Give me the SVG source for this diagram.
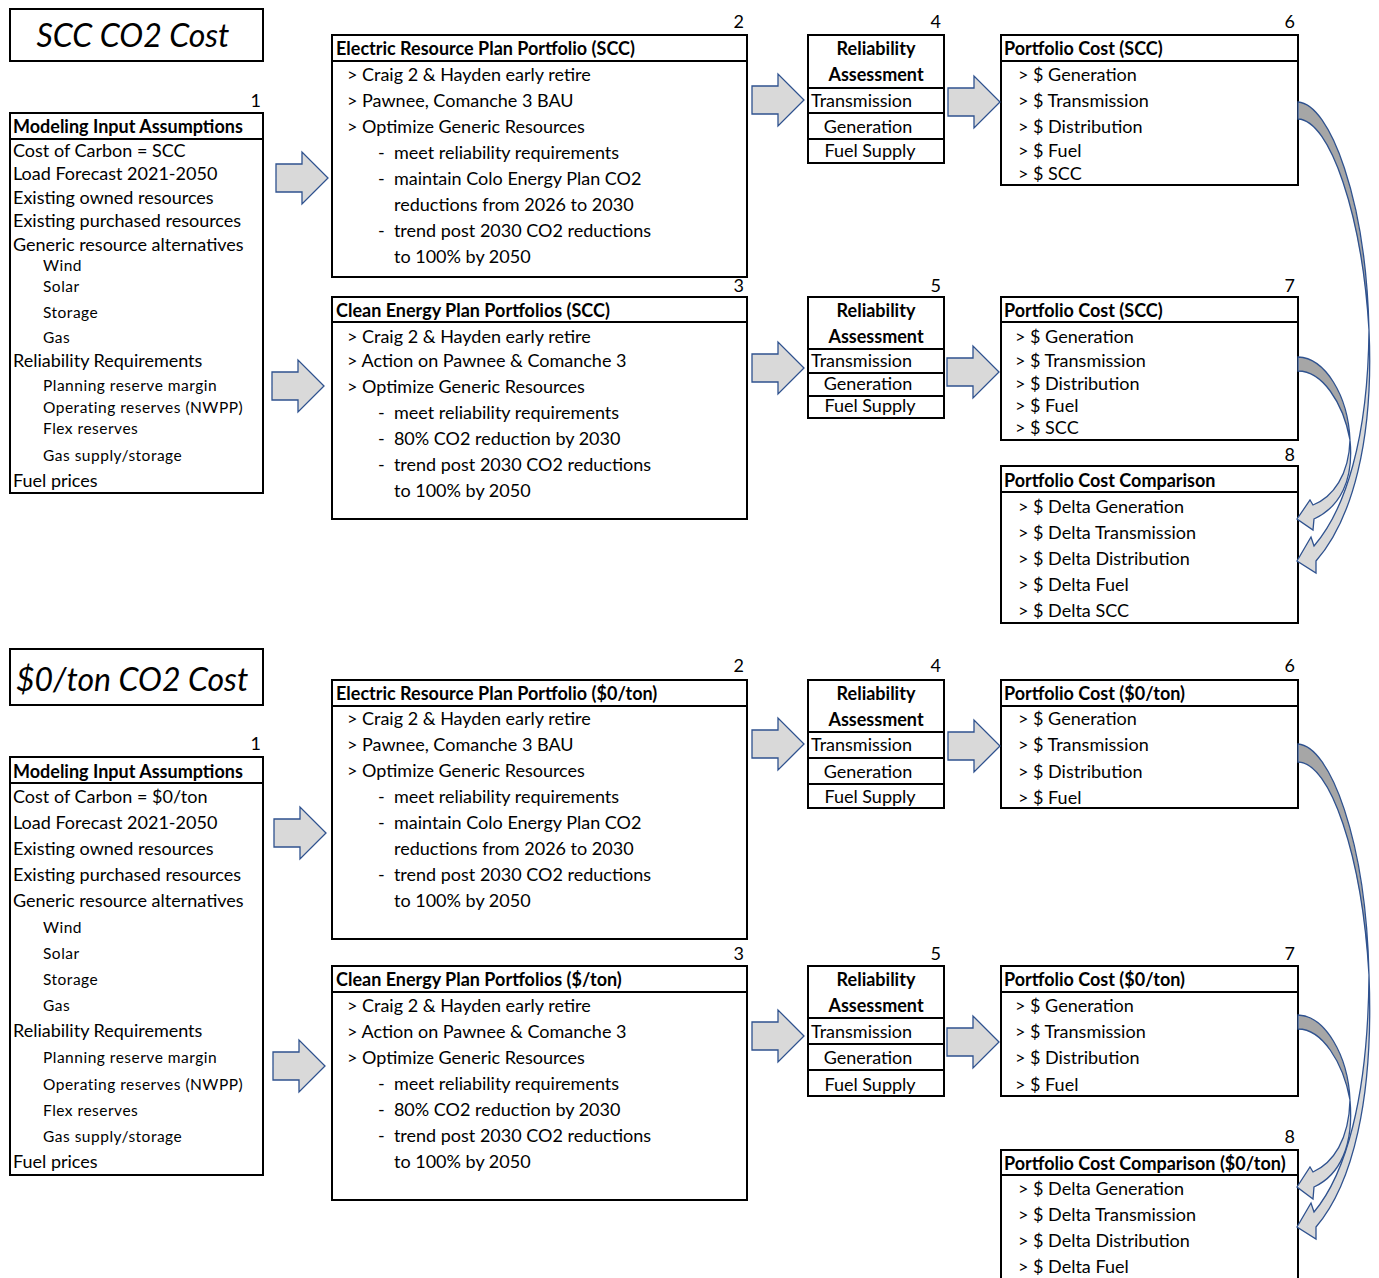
<svg xmlns="http://www.w3.org/2000/svg" width="1379" height="1278" viewBox="0 0 1379 1278">
<style>
.bg{fill:#fff}
.box{fill:#fff;stroke:#000;stroke-width:2}
.ln{stroke:#000;stroke-width:2;fill:none}
text{font-family:Lato,"Liberation Sans",sans-serif;font-size:18px;fill:#000;white-space:pre}
.b{font-weight:bold}
.s{font-size:15.5px;letter-spacing:0.5px}
.c{text-anchor:middle}
.r{text-anchor:end}
.ttl{font-size:32px;font-style:italic}
.arr{fill:#D9D9D9;stroke:#2F528F;stroke-width:1.3;stroke-linejoin:miter}
.dk{fill:#A6A6A6;stroke:#2F528F;stroke-width:1.3}
</style>
<defs>
<path id="blk" d="M0,-14 H26 V-26 L52,0 L26,26 V14 H0 Z"/>
</defs>
<rect class="bg" x="0" y="0" width="1379" height="1278"/>

<!-- ===== SCC section ===== -->
<g id="title-scc"><rect class="box" x="10" y="9" width="253" height="52"/><text class="ttl c" x="133" y="47">SCC CO2 Cost</text></g>

<g id="n1-scc">
<text class="r" x="261" y="107">1</text>
<rect class="box" x="10" y="113" width="253" height="380"/>
<line class="ln" x1="10" y1="139" x2="263" y2="139"/>
<text class="b" x="13" y="133">Modeling Input Assumptions</text>
<text x="13" y="157">Cost of Carbon = SCC</text>
<text x="13" y="180">Load Forecast 2021-2050</text>
<text x="13" y="204">Existing owned resources</text>
<text x="13" y="227">Existing purchased resources</text>
<text x="13" y="251">Generic resource alternatives</text>
<text class="s" x="43" y="271">Wind</text>
<text class="s" x="43" y="292">Solar</text>
<text class="s" x="43" y="318">Storage</text>
<text class="s" x="43" y="343">Gas</text>
<text x="13" y="367">Reliability Requirements</text>
<text class="s" x="43" y="391">Planning reserve margin</text>
<text class="s" x="43" y="413">Operating reserves (NWPP)</text>
<text class="s" x="43" y="434">Flex reserves</text>
<text class="s" x="43" y="461">Gas supply/storage</text>
<text x="13" y="487">Fuel prices</text>
</g>

<g id="n2-scc">
<text class="r" x="744" y="28">2</text>
<rect class="box" x="332" y="35" width="415" height="242"/>
<line class="ln" x1="332" y1="61" x2="747" y2="61"/>
<text class="b" x="336" y="55">Electric Resource Plan Portfolio (SCC)</text>
<text x="347" y="81">&gt; Craig 2 &amp; Hayden early retire</text>
<text x="347" y="107">&gt; Pawnee, Comanche 3 BAU</text>
<text x="347" y="133">&gt; Optimize Generic Resources</text>
<text x="378" y="159">-  meet reliability requirements</text>
<text x="378" y="185">-  maintain Colo Energy Plan CO2</text>
<text x="394" y="211">reductions from 2026 to 2030</text>
<text x="378" y="237">-  trend post 2030 CO2 reductions</text>
<text x="394" y="263">to 100% by 2050</text>
</g>

<g id="n3-scc">
<text class="r" x="744" y="292">3</text>
<rect class="box" x="332" y="297" width="415" height="222"/>
<line class="ln" x1="332" y1="322" x2="747" y2="322"/>
<text class="b" x="336" y="317">Clean Energy Plan Portfolios (SCC)</text>
<text x="347" y="343">&gt; Craig 2 &amp; Hayden early retire</text>
<text x="347" y="367">&gt; Action on Pawnee &amp; Comanche 3</text>
<text x="347" y="393">&gt; Optimize Generic Resources</text>
<text x="378" y="419">-  meet reliability requirements</text>
<text x="378" y="445">-  80% CO2 reduction by 2030</text>
<text x="378" y="471">-  trend post 2030 CO2 reductions</text>
<text x="394" y="497">to 100% by 2050</text>
</g>

<g id="n4-scc">
<text class="r" x="941" y="28">4</text>
<rect class="box" x="808" y="35" width="136" height="128"/>
<line class="ln" x1="808" y1="88" x2="944" y2="88"/>
<line class="ln" x1="808" y1="113" x2="944" y2="113"/>
<line class="ln" x1="808" y1="139" x2="944" y2="139"/>
<text class="b c" x="876" y="55">Reliability</text>
<text class="b c" x="876" y="81">Assessment</text>
<text x="811" y="107">Transmission</text>
<text class="c" x="868" y="133">Generation</text>
<text class="c" x="870" y="157">Fuel Supply</text>
</g>

<g id="n5-scc">
<text class="r" x="941" y="292">5</text>
<rect class="box" x="808" y="297" width="136" height="121"/>
<line class="ln" x1="808" y1="349" x2="944" y2="349"/>
<line class="ln" x1="808" y1="373" x2="944" y2="373"/>
<line class="ln" x1="808" y1="396" x2="944" y2="396"/>
<text class="b c" x="876" y="317">Reliability</text>
<text class="b c" x="876" y="343">Assessment</text>
<text x="811" y="367">Transmission</text>
<text class="c" x="868" y="390">Generation</text>
<text class="c" x="870" y="412">Fuel Supply</text>
</g>

<g id="n6-scc">
<text class="r" x="1295" y="28">6</text>
<rect class="box" x="1001" y="35" width="297" height="150"/>
<line class="ln" x1="1001" y1="61" x2="1298" y2="61"/>
<text class="b" x="1004" y="55">Portfolio Cost (SCC)</text>
<text x="1018" y="81">&gt; $ Generation</text>
<text x="1018" y="107">&gt; $ Transmission</text>
<text x="1018" y="133">&gt; $ Distribution</text>
<text x="1018" y="157">&gt; $ Fuel</text>
<text x="1018" y="180">&gt; $ SCC</text>
</g>

<g id="n7-scc">
<text class="r" x="1295" y="292">7</text>
<rect class="box" x="1001" y="297" width="297" height="143"/>
<line class="ln" x1="1001" y1="322" x2="1298" y2="322"/>
<text class="b" x="1004" y="317">Portfolio Cost (SCC)</text>
<text x="1015" y="343">&gt; $ Generation</text>
<text x="1015" y="367">&gt; $ Transmission</text>
<text x="1015" y="390">&gt; $ Distribution</text>
<text x="1015" y="412">&gt; $ Fuel</text>
<text x="1015" y="434">&gt; $ SCC</text>
</g>

<g id="n8-scc">
<text class="r" x="1295" y="461">8</text>
<rect class="box" x="1001" y="466" width="297" height="157"/>
<line class="ln" x1="1001" y1="492" x2="1298" y2="492"/>
<text class="b" x="1004" y="487">Portfolio Cost Comparison</text>
<text x="1018" y="513">&gt; $ Delta Generation</text>
<text x="1018" y="539">&gt; $ Delta Transmission</text>
<text x="1018" y="565">&gt; $ Delta Distribution</text>
<text x="1018" y="591">&gt; $ Delta Fuel</text>
<text x="1018" y="617">&gt; $ Delta SCC</text>
</g>

<!-- ===== $0/ton section ===== -->
<g id="title-zero"><rect class="box" x="10" y="649" width="253" height="56"/><text class="ttl" x="16" y="691">$0/ton CO2 Cost</text></g>

<g id="n1-zero">
<text class="r" x="261" y="750">1</text>
<rect class="box" x="10" y="757" width="253" height="418"/>
<line class="ln" x1="10" y1="783" x2="263" y2="783"/>
<text class="b" x="13" y="778">Modeling Input Assumptions</text>
<text x="13" y="803">Cost of Carbon = $0/ton</text>
<text x="13" y="829">Load Forecast 2021-2050</text>
<text x="13" y="855">Existing owned resources</text>
<text x="13" y="881">Existing purchased resources</text>
<text x="13" y="907">Generic resource alternatives</text>
<text class="s" x="43" y="933">Wind</text>
<text class="s" x="43" y="959">Solar</text>
<text class="s" x="43" y="985">Storage</text>
<text class="s" x="43" y="1011">Gas</text>
<text x="13" y="1037">Reliability Requirements</text>
<text class="s" x="43" y="1063">Planning reserve margin</text>
<text class="s" x="43" y="1090">Operating reserves (NWPP)</text>
<text class="s" x="43" y="1116">Flex reserves</text>
<text class="s" x="43" y="1142">Gas supply/storage</text>
<text x="13" y="1168">Fuel prices</text>
</g>

<g id="n2-zero">
<text class="r" x="744" y="672">2</text>
<rect class="box" x="332" y="680" width="415" height="259"/>
<line class="ln" x1="332" y1="706" x2="747" y2="706"/>
<text class="b" x="336" y="700">Electric Resource Plan Portfolio ($0/ton)</text>
<text x="347" y="725">&gt; Craig 2 &amp; Hayden early retire</text>
<text x="347" y="751">&gt; Pawnee, Comanche 3 BAU</text>
<text x="347" y="777">&gt; Optimize Generic Resources</text>
<text x="378" y="803">-  meet reliability requirements</text>
<text x="378" y="829">-  maintain Colo Energy Plan CO2</text>
<text x="394" y="855">reductions from 2026 to 2030</text>
<text x="378" y="881">-  trend post 2030 CO2 reductions</text>
<text x="394" y="907">to 100% by 2050</text>
</g>

<g id="n3-zero">
<text class="r" x="744" y="960">3</text>
<rect class="box" x="332" y="966" width="415" height="234"/>
<line class="ln" x1="332" y1="992" x2="747" y2="992"/>
<text class="b" x="336" y="986">Clean Energy Plan Portfolios ($/ton)</text>
<text x="347" y="1012">&gt; Craig 2 &amp; Hayden early retire</text>
<text x="347" y="1038">&gt; Action on Pawnee &amp; Comanche 3</text>
<text x="347" y="1064">&gt; Optimize Generic Resources</text>
<text x="378" y="1090">-  meet reliability requirements</text>
<text x="378" y="1116">-  80% CO2 reduction by 2030</text>
<text x="378" y="1142">-  trend post 2030 CO2 reductions</text>
<text x="394" y="1168">to 100% by 2050</text>
</g>

<g id="n4-zero">
<text class="r" x="941" y="672">4</text>
<rect class="box" x="808" y="680" width="136" height="128"/>
<line class="ln" x1="808" y1="732" x2="944" y2="732"/>
<line class="ln" x1="808" y1="758" x2="944" y2="758"/>
<line class="ln" x1="808" y1="784" x2="944" y2="784"/>
<text class="b c" x="876" y="700">Reliability</text>
<text class="b c" x="876" y="726">Assessment</text>
<text x="811" y="751">Transmission</text>
<text class="c" x="868" y="778">Generation</text>
<text class="c" x="870" y="803">Fuel Supply</text>
</g>

<g id="n5-zero">
<text class="r" x="941" y="960">5</text>
<rect class="box" x="808" y="966" width="136" height="130"/>
<line class="ln" x1="808" y1="1018" x2="944" y2="1018"/>
<line class="ln" x1="808" y1="1044" x2="944" y2="1044"/>
<line class="ln" x1="808" y1="1070" x2="944" y2="1070"/>
<text class="b c" x="876" y="986">Reliability</text>
<text class="b c" x="876" y="1012">Assessment</text>
<text x="811" y="1038">Transmission</text>
<text class="c" x="868" y="1064">Generation</text>
<text class="c" x="870" y="1091">Fuel Supply</text>
</g>

<g id="n6-zero">
<text class="r" x="1295" y="672">6</text>
<rect class="box" x="1001" y="680" width="297" height="128"/>
<line class="ln" x1="1001" y1="706" x2="1298" y2="706"/>
<text class="b" x="1004" y="700">Portfolio Cost ($0/ton)</text>
<text x="1018" y="725">&gt; $ Generation</text>
<text x="1018" y="751">&gt; $ Transmission</text>
<text x="1018" y="778">&gt; $ Distribution</text>
<text x="1018" y="804">&gt; $ Fuel</text>
</g>

<g id="n7-zero">
<text class="r" x="1295" y="960">7</text>
<rect class="box" x="1001" y="966" width="297" height="130"/>
<line class="ln" x1="1001" y1="992" x2="1298" y2="992"/>
<text class="b" x="1004" y="986">Portfolio Cost ($0/ton)</text>
<text x="1015" y="1012">&gt; $ Generation</text>
<text x="1015" y="1038">&gt; $ Transmission</text>
<text x="1015" y="1064">&gt; $ Distribution</text>
<text x="1015" y="1091">&gt; $ Fuel</text>
</g>

<g id="n8-zero">
<text class="r" x="1295" y="1143">8</text>
<rect class="box" x="1001" y="1150" width="297" height="140"/>
<line class="ln" x1="1001" y1="1175" x2="1298" y2="1175"/>
<text class="b" x="1004" y="1170">Portfolio Cost Comparison ($0/ton)</text>
<text x="1018" y="1195">&gt; $ Delta Generation</text>
<text x="1018" y="1221">&gt; $ Delta Transmission</text>
<text x="1018" y="1247">&gt; $ Delta Distribution</text>
<text x="1018" y="1273">&gt; $ Delta Fuel</text>
</g>

<!-- ===== connectors ===== -->
<g id="connectors">
<use href="#blk" class="arr" transform="translate(276,178)"/>
<use href="#blk" class="arr" transform="translate(272,386)"/>
<use href="#blk" class="arr" transform="translate(752,100)"/>
<use href="#blk" class="arr" transform="translate(948,102)"/>
<use href="#blk" class="arr" transform="translate(752,368)"/>
<use href="#blk" class="arr" transform="translate(947,372)"/>
<use href="#blk" class="arr" transform="translate(274,833)"/>
<use href="#blk" class="arr" transform="translate(273,1066)"/>
<use href="#blk" class="arr" transform="translate(752,744)"/>
<use href="#blk" class="arr" transform="translate(948,746)"/>
<use href="#blk" class="arr" transform="translate(752,1036)"/>
<use href="#blk" class="arr" transform="translate(947,1042)"/>

<!-- curved: 6 -> 8 (SCC) -->
<path class="dk" d="M1298,102 C1330,104 1366,200 1369,330 C1362,215 1330,120 1298,119 Z"/>
<path class="arr" d="M1369,330 C1368,440 1345,510 1314,546 L1311,537 L1297,561 L1316,573 L1316,561 C1352,520 1374,440 1369,330 Z"/>
<!-- curved: 7 -> 8 (SCC) -->
<path class="dk" d="M1298,357 C1325,358 1348,395 1350,440 C1343,402 1322,371 1298,371 Z"/>
<path class="arr" d="M1350,440 C1349,475 1333,497 1313,505 L1310,500 L1297,519 L1313,530 L1314,519 C1340,507 1354,480 1350,440 Z"/>
<!-- curved: 6 -> 8 ($0) -->
<path class="dk" d="M1298,744 C1330,746 1366,840 1369,975 C1362,855 1330,762 1298,762 Z"/>
<path class="arr" d="M1369,975 C1368,1100 1345,1175 1314,1212 L1311,1203 L1297,1227 L1316,1239 L1316,1227 C1352,1185 1374,1100 1369,975 Z"/>
<!-- curved: 7 -> 8 ($0) -->
<path class="dk" d="M1298,1015 C1325,1016 1348,1055 1350,1100 C1343,1062 1322,1029 1298,1029 Z"/>
<path class="arr" d="M1350,1100 C1349,1140 1333,1163 1313,1172 L1310,1167 L1297,1187 L1313,1199 L1314,1187 C1340,1175 1354,1145 1350,1100 Z"/>
</g>
</svg>
